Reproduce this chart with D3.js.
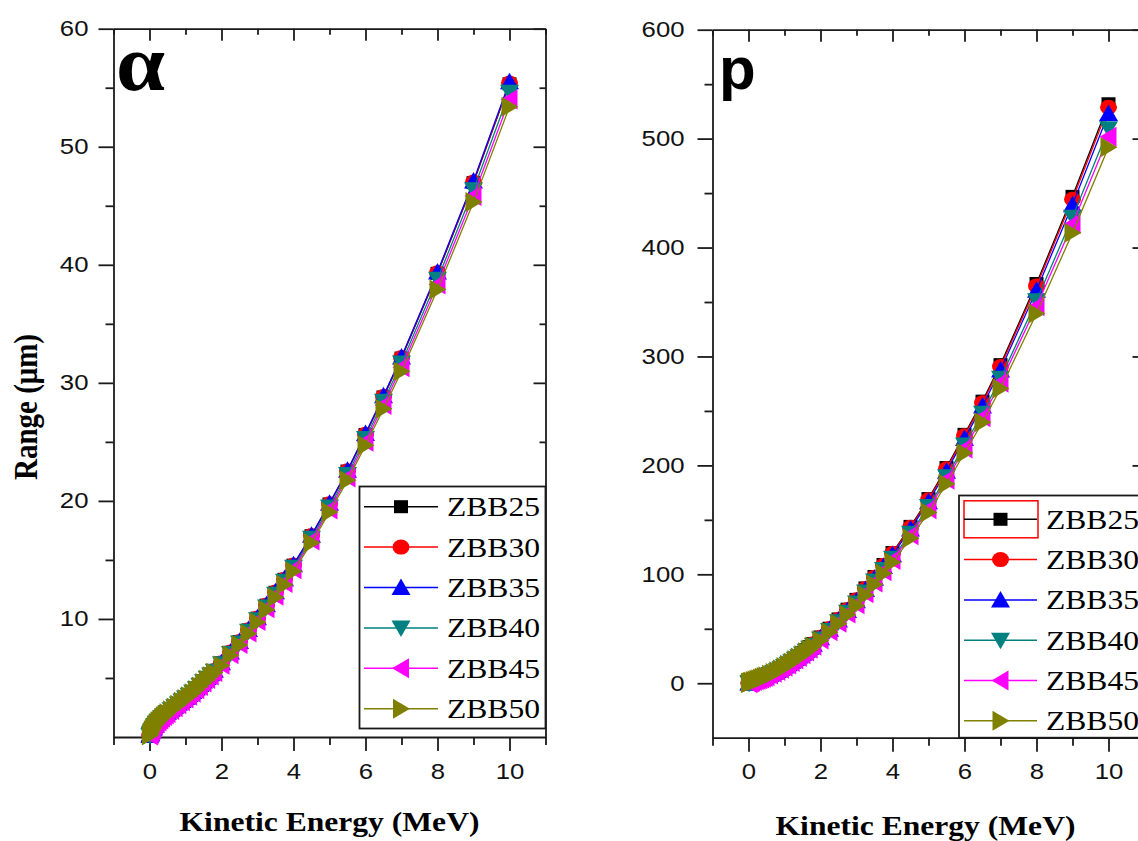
<!DOCTYPE html>
<html>
<head>
<meta charset="utf-8">
<script src="https://cdn.jsdelivr.net/npm/d3@7"></script>
<style>
  html, body { margin: 0; padding: 0; background: #fff; }
  svg { display: block; }
</style>
</head>
<body>
<script>
// Kinetic energy grid (MeV)
const energy = [0.01,0.02,0.03,0.05,0.07,0.1,0.15,0.2,0.25,0.3,0.35,0.4,0.45,0.5,0.6,0.7,0.8,0.9,1.0,1.1,1.2,1.3,1.4,1.5,1.6,1.7,1.8,2.0,2.25,2.5,2.75,3.0,3.25,3.5,3.75,4.0,4.5,5.0,5.5,6.0,6.5,7.0,8.0,9.0,10.0];

const seriesNames = ["ZBB25","ZBB30","ZBB35","ZBB40","ZBB45","ZBB50"];

// Alpha particle range (µm)
const alpha25 = [0.12,0.21,0.29,0.44,0.57,0.75,1.00,1.20,1.37,1.53,1.67,1.81,1.94,2.09,2.34,2.59,2.84,3.09,3.34,3.59,3.84,4.14,4.44,4.74,5.03,5.33,5.63,6.28,7.18,8.08,9.07,10.07,11.17,12.26,13.36,14.56,17.05,19.74,22.53,25.62,28.81,32.10,39.28,46.96,55.33];
const alpha30 = [0.12,0.21,0.29,0.44,0.57,0.75,1.00,1.20,1.37,1.53,1.68,1.82,1.95,2.10,2.35,2.59,2.84,3.09,3.34,3.59,3.84,4.14,4.44,4.74,5.04,5.34,5.64,6.29,7.19,8.08,9.08,10.08,11.18,12.28,13.37,14.57,17.07,19.76,22.55,25.65,28.84,32.14,39.32,47.01,55.39];
const alpha35 = [0.12,0.21,0.29,0.44,0.57,0.75,1.00,1.20,1.37,1.53,1.68,1.82,1.95,2.10,2.35,2.60,2.85,3.10,3.35,3.60,3.85,4.15,4.45,4.75,5.05,5.35,5.65,6.30,7.20,8.10,9.10,10.10,11.20,12.30,13.40,14.60,17.10,19.80,22.60,25.70,28.90,32.20,39.40,47.10,55.50];
const alpha40 = [0.12,0.21,0.29,0.43,0.56,0.74,0.98,1.18,1.35,1.51,1.65,1.79,1.92,2.07,2.31,2.56,2.80,3.05,3.30,3.54,3.79,4.08,4.38,4.67,4.97,5.26,5.56,6.20,7.08,7.97,8.95,9.94,11.02,12.10,13.19,14.37,16.83,19.48,22.24,25.29,28.44,31.68,38.77,46.35,54.61];
const alpha45 = [0.12,0.20,0.28,0.43,0.55,0.73,0.97,1.17,1.33,1.49,1.63,1.77,1.90,2.04,2.29,2.53,2.77,3.02,3.26,3.50,3.75,4.04,4.33,4.62,4.91,5.21,5.50,6.13,7.01,7.88,8.85,9.83,10.90,11.97,13.04,14.21,16.64,19.27,21.99,25.01,28.12,31.33,38.34,45.83,54.00];
const alpha50 = [0.12,0.20,0.28,0.42,0.55,0.72,0.96,1.15,1.32,1.47,1.62,1.75,1.88,2.02,2.26,2.50,2.74,2.98,3.22,3.46,3.70,3.99,4.28,4.57,4.86,5.15,5.44,6.06,6.93,7.79,8.75,9.72,10.77,11.83,12.89,14.05,16.45,19.05,21.74,24.72,27.80,30.98,37.90,45.31,53.39];

// Proton range (µm)
const proton25 = [0.22,0.40,0.55,0.85,1.15,1.55,2.2,2.8,3.4,4.0,4.7,5.4,6.1,6.9,8.5,10.2,12.0,14.0,16.1,18.3,20.6,23.0,25.5,28.1,30.8,33.6,36.5,42.5,50.5,59.0,68.0,77.0,87.5,98.0,109.0,120.0,144.0,169.5,198.0,228.5,259.0,292.5,367.0,447.0,532.0];
const proton30 = [0.22,0.40,0.55,0.84,1.14,1.54,2.19,2.78,3.38,3.98,4.67,5.37,6.06,6.86,8.45,10.14,11.93,13.92,16.0,18.19,20.48,22.86,25.35,27.93,30.62,33.4,36.28,42.25,50.2,58.65,67.59,76.54,86.98,97.41,108.35,119.28,143.14,168.48,196.81,227.13,257.45,290.75,364.8,444.32,528.81];
const proton35 = [0.22,0.39,0.54,0.84,1.13,1.52,2.16,2.75,3.34,3.93,4.62,5.31,6.0,6.78,8.36,10.03,11.8,13.76,15.83,17.99,20.25,22.61,25.07,27.62,30.28,33.03,35.88,41.78,49.64,58.0,66.84,75.69,86.01,96.33,107.15,117.96,141.55,166.62,194.63,224.62,254.6,287.53,360.76,439.4,522.96];
const proton40 = [0.21,0.38,0.53,0.81,1.10,1.48,2.11,2.68,3.25,3.83,4.5,5.17,5.84,6.6,8.13,9.76,11.48,13.4,15.41,17.51,19.71,22.01,24.4,26.89,29.48,32.16,34.93,40.67,48.33,56.46,65.08,73.69,83.74,93.79,104.31,114.84,137.81,162.21,189.49,218.67,247.86,279.92,351.22,427.78,509.12];
const proton45 = [0.21,0.38,0.52,0.80,1.08,1.46,2.07,2.64,3.21,3.77,4.43,5.09,5.75,6.51,8.02,9.62,11.32,13.2,15.18,17.26,19.43,21.69,24.05,26.5,29.04,31.68,34.42,40.08,47.62,55.64,64.12,72.61,82.51,92.41,102.79,113.16,135.79,159.84,186.71,215.48,244.24,275.83,346.08,421.52,501.68];
const proton50 = [0.20,0.37,0.51,0.79,1.06,1.43,2.04,2.59,3.15,3.70,4.35,5.0,5.64,6.38,7.86,9.44,11.1,12.95,14.89,16.93,19.06,21.28,23.59,25.99,28.49,31.08,33.76,39.31,46.71,54.58,62.9,71.23,80.94,90.65,100.83,111.0,133.2,156.79,183.15,211.36,239.58,270.56,339.48,413.48,492.1];

// Axis ticks
const xMajorTicks = [0,2,4,6,8,10];
const xMinorTicks = [-1,1,3,5,7,9,11];
const alphaMajorTicks = [10,20,30,40,50,60];
const alphaMinorTicks = [5,15,25,35,45,55];
const protonMajorTicks = [0,100,200,300,400,500,600];
const protonMinorTicks = [50,150,250,350,450,550];

const colors = ["#000000","#ff0000","#0000ff","#008080","#ff00ff","#808000"];
const shapes = ["square","circle","up","down","left","right"];

const W = 1138, H = 841;
const SX = 1.17;  // horizontal text stretch
const svg = d3.select("body").append("svg").attr("width", W).attr("height", H);
svg.append("rect").attr("width", W).attr("height", H).attr("fill", "#fff");

function markerPath(shape) {
  switch (shape) {
    case "square": return "M-7,-6.5h14v13h-14z";
    case "circle": return "M-8.5,0a8.5,7.5 0 1,0 17,0a8.5,7.5 0 1,0 -17,0z";
    case "up": return "M0,-9L9.5,7.5L-9.5,7.5Z";
    case "down": return "M0,9L9.5,-7.5L-9.5,-7.5Z";
    case "left": return "M-9,0L8,-10L8,10Z";
    case "right": return "M9,0L-8,-10L-8,10Z";
  }
}

function sText(g, x, y, str, opts) {
  const t = g.append("text")
    .attr("transform", `translate(${x},${y}) scale(${opts.sx || SX},1)`)
    .attr("text-anchor", opts.anchor || "start")
    .attr("font-family", opts.family)
    .attr("font-size", opts.size)
    .attr("font-weight", opts.weight || "normal")
    .attr("fill", opts.fill || "#111")
    .text(str);
  return t;
}

function drawPanel(cfg) {
  const g = svg.append("g");
  const x = d3.scaleLinear().domain([-1, 11]).range([cfg.x0, cfg.x1]);
  const y = d3.scaleLinear().domain(cfg.yDomain).range([cfg.yBottom, cfg.yTop]);

  const axisStyle = sel => {
    sel.selectAll("path.domain").attr("stroke", "#1a1a1a").attr("stroke-width", 1.8);
    sel.selectAll(".tick line").attr("stroke", "#1a1a1a").attr("stroke-width", 1.8);
  };

  // bottom axis: outward ticks with labels
  const gb = g.append("g").attr("transform", `translate(0,${cfg.yBottom})`);
  gb.call(d3.axisBottom(x).tickValues(xMinorTicks).tickSize(8).tickSizeOuter(0).tickFormat(""));
  const gb2 = g.append("g").attr("transform", `translate(0,${cfg.yBottom})`);
  gb2.call(d3.axisBottom(x).tickValues(xMajorTicks).tickSize(14).tickPadding(12).tickSizeOuter(0));
  gb2.select("path.domain").remove();
  gb2.selectAll(".tick text")
    .attr("font-family", "'Liberation Sans', Arial, sans-serif")
    .attr("font-size", 22).attr("fill", "#111")
    .attr("transform", `scale(${SX},1)`);
  axisStyle(gb); axisStyle(gb2);

  // top axis: inward ticks
  const gt = g.append("g").attr("transform", `translate(0,${cfg.yTop})`);
  gt.call(d3.axisTop(x).tickValues(xMinorTicks).tickSize(-6).tickSizeOuter(0).tickFormat(""));
  const gt2 = g.append("g").attr("transform", `translate(0,${cfg.yTop})`);
  gt2.call(d3.axisTop(x).tickValues(xMajorTicks).tickSize(-12).tickSizeOuter(0).tickFormat(""));
  gt2.select("path.domain").remove();
  axisStyle(gt); axisStyle(gt2);

  // left axis: outward ticks with labels
  const gl = g.append("g").attr("transform", `translate(${cfg.x0},0)`);
  gl.call(d3.axisLeft(y).tickValues(cfg.minorTicks).tickSize(8).tickSizeOuter(0).tickFormat(""));
  const gl2 = g.append("g").attr("transform", `translate(${cfg.x0},0)`);
  gl2.call(d3.axisLeft(y).tickValues(cfg.majorTicks).tickSize(15).tickSizeOuter(0));
  gl2.select("path.domain").remove();
  gl2.selectAll(".tick text")
    .attr("font-family", "'Liberation Sans', Arial, sans-serif")
    .attr("font-size", 22).attr("fill", "#111")
    .attr("x", -cfg.labelGap / SX)
    .attr("transform", `scale(${SX},1)`);
  axisStyle(gl); axisStyle(gl2);

  // right axis: inward ticks
  const gr = g.append("g").attr("transform", `translate(${cfg.x1},0)`);
  gr.call(d3.axisRight(y).tickValues(cfg.minorTicks).tickSize(-6).tickSizeOuter(0).tickFormat(""));
  const gr2 = g.append("g").attr("transform", `translate(${cfg.x1},0)`);
  gr2.call(d3.axisRight(y).tickValues(cfg.majorTicks).tickSize(-12).tickSizeOuter(0).tickFormat(""));
  gr2.select("path.domain").remove();
  axisStyle(gr); axisStyle(gr2);

  // series: lines and symbols
  const line = d3.line().x(d => x(d[0])).y(d => y(d[1]));
  cfg.series.forEach((vals, i) => {
    const pts = energy.map((e, k) => [e, vals[k]]);
    const sg = g.append("g");
    sg.append("path").datum(pts).attr("d", line)
      .attr("fill", "none").attr("stroke", colors[i]).attr("stroke-width", 1.3);
    sg.selectAll("path.pt").data(pts).join("path").attr("class", "pt")
      .attr("d", markerPath(shapes[i]))
      .attr("transform", d => `translate(${x(d[0])},${y(d[1])})`)
      .attr("fill", colors[i]);
  });

  // legend
  const L = cfg.legend;
  const lg = g.append("g");
  lg.append("rect").attr("x", L.x0).attr("y", L.y0)
    .attr("width", L.x1 - L.x0).attr("height", L.y1 - L.y0)
    .attr("fill", "#fff").attr("stroke", "#1a1a1a").attr("stroke-width", 1.8);
  if (L.highlight) {
    lg.append("rect").attr("x", L.lineX0).attr("y", L.rowY0 - 18.5)
      .attr("width", L.lineX1 - L.lineX0 + 1).attr("height", 37)
      .attr("fill", "none").attr("stroke", "#ff0000").attr("stroke-width", 1.5);
  }
  seriesNames.forEach((name, i) => {
    const ry = L.rowY0 + i * L.rowStep;
    lg.append("line").attr("x1", L.lineX0).attr("x2", L.lineX1)
      .attr("y1", ry).attr("y2", ry).attr("stroke", colors[i]).attr("stroke-width", 1.5);
    lg.append("path").attr("d", markerPath(shapes[i]))
      .attr("transform", `translate(${(L.lineX0 + L.lineX1) / 2},${ry})`)
      .attr("fill", colors[i]);
    sText(lg, L.textX, ry + 9.5, name, {
      family: "'Liberation Serif', 'Times New Roman', serif", size: 27, fill: "#000"
    });
  });

  // x-axis title
  sText(g, (cfg.x0 + cfg.x1) / 2 + cfg.titleDx, cfg.titleY, "Kinetic Energy (MeV)", {
    family: "'Liberation Serif', 'Times New Roman', serif", size: 27, weight: "bold",
    anchor: "middle", fill: "#000"
  });
  return g;
}

// alpha panel
const gA = drawPanel({
  x0: 113.5, x1: 545.5, yTop: 28.7, yBottom: 737, yDomain: [0, 60],
  majorTicks: alphaMajorTicks, minorTicks: alphaMinorTicks, labelGap: 25,
  series: [alpha25, alpha30, alpha35, alpha40, alpha45, alpha50],
  legend: { x0: 359.5, x1: 545.5, y0: 486.5, y1: 728.5, rowY0: 506.7, rowStep: 40.4,
            lineX0: 364, lineX1: 438, textX: 447, highlight: false },
  titleY: 831, titleDx: 0
});

// proton panel
const gP = drawPanel({
  x0: 712.5, x1: 1144.5, yTop: 29.7, yBottom: 737.7, yDomain: [-50, 600],
  majorTicks: protonMajorTicks, minorTicks: protonMinorTicks, labelGap: 28,
  series: [proton25, proton30, proton35, proton40, proton45, proton50],
  legend: { x0: 959, x1: 1144.5, y0: 495.5, y1: 737.7, rowY0: 519.3, rowStep: 40.3,
            lineX0: 964, lineX1: 1037, textX: 1046, highlight: true },
  titleY: 835, titleDx: -3
});

// panel letters
sText(svg, 116, 90, "α", {
  family: "'Liberation Serif', 'Times New Roman', serif", size: 80, weight: "bold",
  fill: "#000", sx: 1.1
});
sText(svg, 719, 89, "p", {
  family: "'Liberation Sans', Arial, sans-serif", size: 60, weight: "bold", fill: "#000", sx: 1.0
});

// y-axis title
svg.append("text")
  .attr("transform", "translate(37,407) rotate(-90) scale(1,1.17)")
  .attr("text-anchor", "middle")
  .attr("font-family", "'Liberation Serif', 'Times New Roman', serif")
  .attr("font-size", 29).attr("font-weight", "bold").attr("fill", "#000")
  .text("Range (μm)");
</script>
</body>
</html>
